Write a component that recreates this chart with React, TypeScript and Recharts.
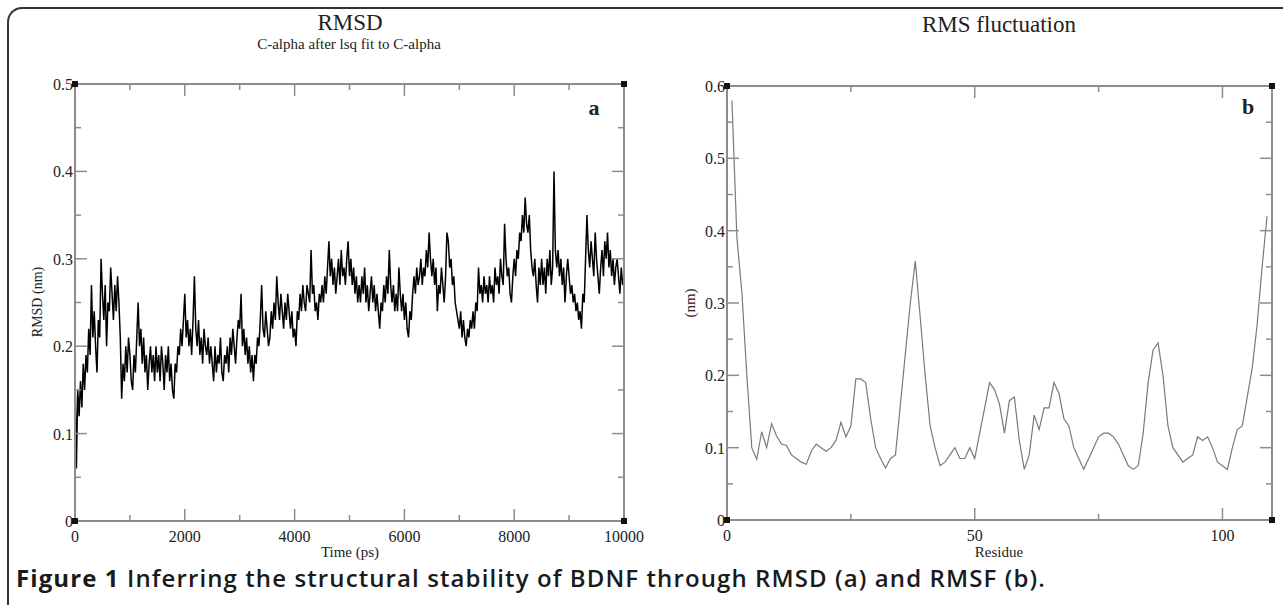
import React from "react"
import { LineChart, Line, XAxis, YAxis } from "recharts"

// RMSD trace, one value every 25 ps from 0 to 10000 ps (nm)
const RMSD_STEP = 25
const rmsdValues = [
  0.17, 0.06, 0.15, 0.12, 0.16, 0.13, 0.18, 0.15, 0.19, 0.17, 0.22, 0.19, 0.27, 0.21, 0.24, 0.20, 0.17, 0.23, 0.21, 0.30,
  0.26, 0.23, 0.27, 0.20, 0.25, 0.24, 0.29, 0.26, 0.23, 0.27, 0.24, 0.28, 0.25, 0.21, 0.14, 0.18, 0.16, 0.20, 0.17, 0.21,
  0.19, 0.16, 0.15, 0.19, 0.17, 0.21, 0.25, 0.20, 0.22, 0.18, 0.21, 0.17, 0.19, 0.15, 0.18, 0.20, 0.17, 0.19, 0.16, 0.20,
  0.17, 0.19, 0.16, 0.20, 0.18, 0.15, 0.19, 0.17, 0.20, 0.16, 0.18, 0.15, 0.14, 0.18, 0.17, 0.20, 0.19, 0.22, 0.20, 0.23,
  0.26, 0.21, 0.23, 0.20, 0.22, 0.19, 0.23, 0.28, 0.22, 0.20, 0.23, 0.19, 0.21, 0.18, 0.22, 0.20, 0.19, 0.21, 0.18, 0.20,
  0.18, 0.16, 0.20, 0.17, 0.19, 0.18, 0.21, 0.17, 0.16, 0.19, 0.18, 0.20, 0.17, 0.21, 0.19, 0.22, 0.20, 0.18, 0.21, 0.23,
  0.22, 0.26, 0.20, 0.22, 0.19, 0.21, 0.18, 0.20, 0.17, 0.19, 0.16, 0.19, 0.18, 0.21, 0.20, 0.23, 0.27, 0.22, 0.21, 0.24,
  0.22, 0.20, 0.21, 0.24, 0.22, 0.25, 0.23, 0.28, 0.25, 0.23, 0.26, 0.24, 0.22, 0.25, 0.23, 0.26, 0.24, 0.22, 0.24, 0.21,
  0.22, 0.20, 0.24, 0.23, 0.26, 0.24, 0.27, 0.25, 0.24, 0.27, 0.26, 0.25, 0.31, 0.26, 0.27, 0.24, 0.25, 0.23, 0.26, 0.25,
  0.27, 0.25, 0.28, 0.26, 0.29, 0.32, 0.28, 0.30, 0.27, 0.29, 0.26, 0.28, 0.30, 0.27, 0.31, 0.28, 0.29, 0.27, 0.30, 0.32,
  0.28, 0.30, 0.27, 0.29, 0.26, 0.28, 0.25, 0.27, 0.25, 0.28, 0.26, 0.29, 0.25, 0.27, 0.24, 0.26, 0.28, 0.25, 0.27, 0.24,
  0.26, 0.24, 0.22, 0.25, 0.24, 0.27, 0.25, 0.28, 0.26, 0.31, 0.27, 0.25, 0.27, 0.24, 0.26, 0.24, 0.29, 0.26, 0.24, 0.26,
  0.23, 0.25, 0.22, 0.21, 0.24, 0.23, 0.26, 0.28, 0.26, 0.29, 0.27, 0.28, 0.30, 0.27, 0.29, 0.28, 0.31, 0.29, 0.33, 0.30,
  0.28, 0.30, 0.27, 0.29, 0.24, 0.27, 0.26, 0.29, 0.27, 0.25, 0.28, 0.33, 0.32, 0.29, 0.30, 0.27, 0.28, 0.25, 0.24, 0.23,
  0.22, 0.24, 0.21, 0.23, 0.21, 0.20, 0.22, 0.21, 0.23, 0.22, 0.24, 0.22, 0.25, 0.24, 0.29, 0.26, 0.27, 0.25, 0.28, 0.26,
  0.27, 0.25, 0.28, 0.26, 0.27, 0.25, 0.29, 0.27, 0.28, 0.26, 0.30, 0.28, 0.27, 0.34, 0.30, 0.28, 0.29, 0.26, 0.25, 0.28,
  0.30, 0.28, 0.31, 0.30, 0.33, 0.32, 0.35, 0.33, 0.37, 0.34, 0.33, 0.35, 0.31, 0.29, 0.28, 0.30, 0.27, 0.25, 0.29, 0.27,
  0.30, 0.27, 0.29, 0.26, 0.30, 0.28, 0.31, 0.27, 0.29, 0.40, 0.31, 0.29, 0.31, 0.28, 0.30, 0.27, 0.29, 0.25, 0.28, 0.30,
  0.28, 0.26, 0.27, 0.25, 0.26, 0.24, 0.25, 0.23, 0.24, 0.22, 0.26, 0.25, 0.30, 0.35, 0.31, 0.29, 0.32, 0.30, 0.28, 0.33,
  0.30, 0.28, 0.26, 0.29, 0.31, 0.28, 0.32, 0.30, 0.33, 0.29, 0.31, 0.28, 0.30, 0.27, 0.29, 0.30, 0.28, 0.26, 0.29, 0.27,
  0.28,
]

// RMS fluctuation per residue (nm), residues 1..109
const rmsfResidues = Array.from({ length: 109 }, (_, i) => i + 1)
const rmsfValues = [
  0.58, 0.39, 0.315, 0.20, 0.10, 0.084, 0.122, 0.10, 0.133, 0.116,
  0.105, 0.103, 0.09, 0.085, 0.08, 0.077, 0.095, 0.105, 0.10, 0.095,
  0.10, 0.11, 0.135, 0.115, 0.13, 0.195, 0.195, 0.19, 0.14, 0.10,
  0.085, 0.072, 0.085, 0.09, 0.16, 0.23, 0.30, 0.358, 0.28, 0.20,
  0.13, 0.10, 0.075, 0.08, 0.09, 0.10, 0.085, 0.085, 0.10, 0.085,
  0.12, 0.155, 0.19, 0.18, 0.16, 0.12, 0.165, 0.17, 0.11, 0.07,
  0.09, 0.145, 0.125, 0.155, 0.155, 0.19, 0.175, 0.14, 0.13, 0.10,
  0.085, 0.07, 0.085, 0.10, 0.115, 0.12, 0.12, 0.115, 0.105, 0.09,
  0.075, 0.07, 0.075, 0.12, 0.19, 0.235, 0.245, 0.20, 0.13, 0.10,
  0.09, 0.08, 0.085, 0.09, 0.115, 0.11, 0.115, 0.10, 0.08, 0.075,
  0.07, 0.10, 0.125, 0.13, 0.17, 0.21, 0.27, 0.35, 0.42,
]

// axis ticks (majors get labels, minors are short)
const rmsdXTicks = [0, 1000, 2000, 3000, 4000, 5000, 6000, 7000, 8000, 9000, 10000]
const rmsdYTicks = [0, 0.05, 0.1, 0.15, 0.2, 0.25, 0.3, 0.35, 0.4, 0.45, 0.5]
const rmsfXTicks = [0, 25, 50, 75, 100, 110]
const rmsfYTicks = [0, 0.05, 0.1, 0.15, 0.2, 0.25, 0.3, 0.35, 0.4, 0.45, 0.5, 0.55, 0.6]

const rmsdData = rmsdValues.map((v, i) => ({ t: i * RMSD_STEP, v }))
const rmsfData = rmsfResidues.map((r, i) => ({ r, v: rmsfValues[i] }))

const FRAME = "#8c8c8c"
const SERIF = "'Liberation Serif', 'DejaVu Serif', serif"

const isMult = (v: number, step: number) => Math.abs(v / step - Math.round(v / step)) < 1e-6
const fmt = (v: number) => (v === 0 ? "0" : String(Math.round(v * 100) / 100))

// one tick factory for all four sides: inward tick marks, labels outside, corner squares
function makeTick(side: "bottom" | "top" | "left" | "right", major: number, labels: boolean, ends: number[], skip: number[] = []) {
  return (props: any) => {
    const { x, y, payload } = props
    const v = payload.value as number
    const isMajor = isMult(v, major)
    const len = isMajor ? 12 : 6
    const corner = ends.includes(v)
    const hidden = skip.includes(v)
    let line = null
    if (!hidden) {
      if (side === "bottom") line = <line x1={x} y1={y} x2={x} y2={y - len} />
      if (side === "top") line = <line x1={x} y1={y} x2={x} y2={y + len} />
      if (side === "left") line = <line x1={x} y1={y} x2={x + len} y2={y} />
      if (side === "right") line = <line x1={x} y1={y} x2={x - len} y2={y} />
    }
    let label = null
    if (labels && isMajor && !hidden) {
      if (side === "bottom")
        label = <text x={x} y={y + 21} textAnchor="middle" fontSize={16} fontFamily={SERIF} fill="#222">{fmt(v)}</text>
      if (side === "left")
        label = <text x={x - 2} y={y + 6} textAnchor="end" fontSize={16} fontFamily={SERIF} fill="#222">{fmt(v)}</text>
    }
    return (
      <g stroke={FRAME} strokeWidth={1.5}>
        {line}
        {label && <g stroke="none">{label}</g>}
        {corner && <rect x={x - 3} y={y - 3} width={6} height={6} fill="#111" stroke="none" />}
      </g>
    )
  }
}

const abs = (left: number, top: number): React.CSSProperties => ({
  position: "absolute",
  left,
  top,
  transform: "translate(-50%, -50%)",
  whiteSpace: "nowrap",
  lineHeight: 1,
  fontFamily: SERIF,
  color: "#222",
})

export default function App() {
  const axisLine = { stroke: FRAME, strokeWidth: 2 }
  return (
    <div style={{ position: "absolute", left: 0, top: 0, width: 1283, height: 605, background: "#fff", overflow: "hidden" }}>
      {/* figure frame */}
      <div
        style={{
          position: "absolute",
          left: 7,
          top: 7,
          width: 1300,
          height: 620,
          borderTop: "2px solid #333",
          borderLeft: "2px solid #333",
          borderTopLeftRadius: 15,
        }}
      />

      {/* panel a */}
      <div style={{ position: "absolute", left: 0, top: 0 }}>
        <LineChart width={680} height={605} data={rmsdData} margin={{ top: 83, right: 55, bottom: 83, left: 74 }}>
          <XAxis
            type="number"
            dataKey="t"
            domain={[0, 10000]}
            ticks={rmsdXTicks}
            interval={0}
            height={1}
            tickSize={0}
            tickMargin={0}
            tickLine={false}
            axisLine={axisLine}
            tick={makeTick("bottom", 2000, true, [])}
          />
          <XAxis
            xAxisId="top"
            orientation="top"
            type="number"
            dataKey="t"
            domain={[0, 10000]}
            ticks={rmsdXTicks}
            interval={0}
            height={1}
            tickSize={0}
            tickMargin={0}
            tickLine={false}
            axisLine={axisLine}
            tick={makeTick("top", 2000, false, [])}
          />
          <YAxis
            type="number"
            dataKey="v"
            domain={[0, 0.5]}
            ticks={rmsdYTicks}
            interval={0}
            width={1}
            tickSize={0}
            tickMargin={0}
            tickLine={false}
            axisLine={axisLine}
            tick={makeTick("left", 0.1, true, [0, 0.5])}
          />
          <YAxis
            yAxisId="right"
            orientation="right"
            type="number"
            dataKey="v"
            domain={[0, 0.5]}
            ticks={rmsdYTicks}
            interval={0}
            width={1}
            tickSize={0}
            tickMargin={0}
            tickLine={false}
            axisLine={axisLine}
            tick={makeTick("right", 0.1, false, [0, 0.5])}
          />
          <Line type="linear" dataKey="v" stroke="#000" strokeWidth={1.5} dot={false} isAnimationActive={false} />
        </LineChart>
      </div>

      {/* panel b */}
      <div style={{ position: "absolute", left: 640, top: 0 }}>
        <LineChart width={643} height={605} data={rmsfData} margin={{ top: 85, right: 10, bottom: 84, left: 86 }}>
          <XAxis
            type="number"
            dataKey="r"
            domain={[0, 110]}
            ticks={rmsfXTicks}
            interval={0}
            height={1}
            tickSize={0}
            tickMargin={0}
            tickLine={false}
            axisLine={axisLine}
            tick={makeTick("bottom", 50, true, [], [110])}
          />
          <XAxis
            xAxisId="top"
            orientation="top"
            type="number"
            dataKey="r"
            domain={[0, 110]}
            ticks={rmsfXTicks}
            interval={0}
            height={1}
            tickSize={0}
            tickMargin={0}
            tickLine={false}
            axisLine={axisLine}
            tick={makeTick("top", 50, false, [], [110])}
          />
          <YAxis
            type="number"
            dataKey="v"
            domain={[0, 0.6]}
            ticks={rmsfYTicks}
            interval={0}
            width={1}
            tickSize={0}
            tickMargin={0}
            tickLine={false}
            axisLine={axisLine}
            tick={makeTick("left", 0.1, true, [0, 0.6])}
          />
          <YAxis
            yAxisId="right"
            orientation="right"
            type="number"
            dataKey="v"
            domain={[0, 0.6]}
            ticks={rmsfYTicks}
            interval={0}
            width={1}
            tickSize={0}
            tickMargin={0}
            tickLine={false}
            axisLine={axisLine}
            tick={makeTick("right", 0.1, false, [0, 0.6])}
          />
          <Line type="linear" dataKey="v" stroke="#7a7a7a" strokeWidth={1.2} dot={false} isAnimationActive={false} />
        </LineChart>
      </div>

      {/* titles and axis names */}
      <div style={{ ...abs(350, 22), fontSize: 23 }}>RMSD</div>
      <div style={{ ...abs(349, 44), fontSize: 15 }}>C-alpha after lsq fit to C-alpha</div>
      <div style={{ ...abs(594, 108), fontSize: 22, fontWeight: "bold" }}>a</div>
      <div style={{ ...abs(350, 552), fontSize: 15 }}>Time (ps)</div>
      <div style={{ ...abs(38, 302), fontSize: 14, transform: "translate(-50%, -50%) rotate(-90deg)" }}>RMSD (nm)</div>

      <div style={{ ...abs(999, 24), fontSize: 23 }}>RMS fluctuation</div>
      <div style={{ ...abs(1248, 107), fontSize: 22, fontWeight: "bold" }}>b</div>
      <div style={{ ...abs(999, 552), fontSize: 15 }}>Residue</div>
      <div style={{ ...abs(690, 303), fontSize: 15, transform: "translate(-50%, -50%) rotate(-90deg)" }}>(nm)</div>

      {/* caption */}
      <div
        style={{
          position: "absolute",
          left: 16,
          top: 578,
          transform: "translateY(-50%)",
          whiteSpace: "nowrap",
          fontFamily: "'Open Sans', 'Noto Sans', sans-serif",
          fontSize: 24,
          fontWeight: 600,
          letterSpacing: 1.1,
          lineHeight: 1,
          color: "#1a1a1a",
        }}
      >
        <span style={{ fontWeight: 700 }}>Figure 1</span> Inferring the structural stability of BDNF through RMSD (a) and RMSF (b).
      </div>
    </div>
  )
}
